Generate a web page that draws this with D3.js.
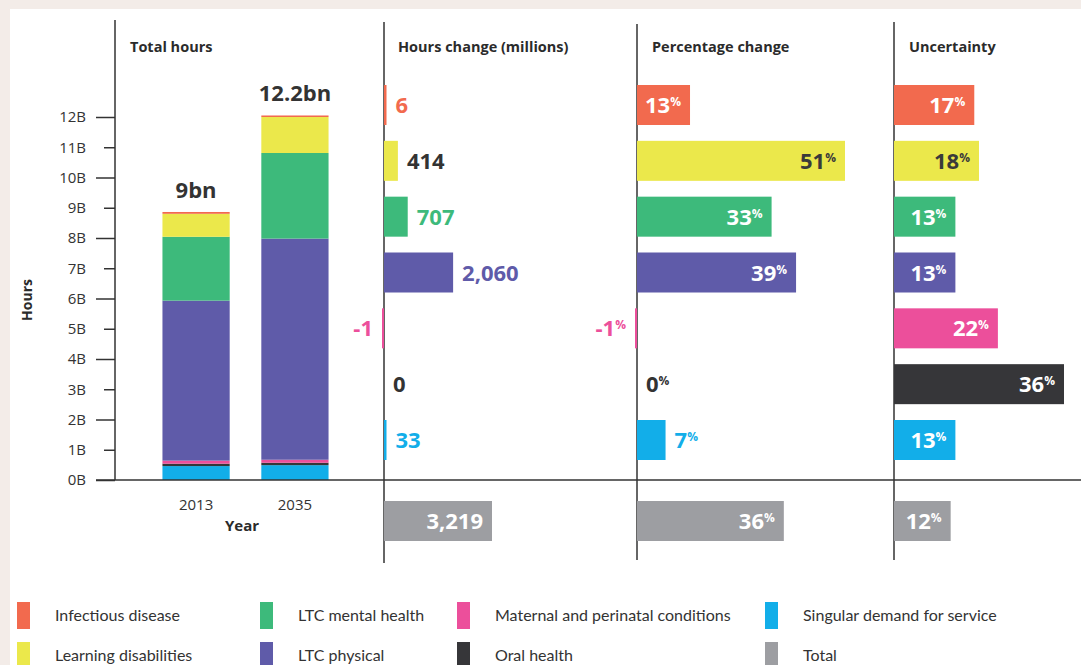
<!doctype html>
<html lang="en">
<head>
  <meta charset="utf-8">
  <title>Hours by condition, 2013 to 2035</title>
  <style>
    body { margin: 0; background: #f3ece8; }
    svg { display: block; }
    text { font-family: "Open Sans", sans-serif; fill: #2b2b2b; }
    .legend text { font-family: Lato, sans-serif; font-size: 16px; }
  </style>
</head>
<body>
  <svg id="svg" width="1081" height="665"></svg>

  <script src="https://cdn.jsdelivr.net/npm/d3@7/dist/d3.min.js"></script>
  <script>
    // categories, stacked bottom -> top in the left chart (reversed order)
    var categories = ["Infectious disease", "Learning disabilities", "LTC mental health",
      "LTC physical", "Maternal and perinatal conditions", "Oral health", "Singular demand for service"];
    var colors = ["#f26a4e", "#ebe84b", "#3dba7b", "#5f5ba9", "#ec4f9b", "#363639", "#12aee9"];
    var totalColor = "#9d9ea2";

    var years = ["2013", "2035"];
    var hours2013 = [0.06, 0.76, 2.11, 5.29, 0.10, 0.08, 0.46];   // billions
    var hours2035 = [0.05, 1.19, 2.83, 7.31, 0.10, 0.08, 0.49];
    var totalLabels = ["9bn", "12.2bn"];
    var yTicks = [0, 1, 2, 3, 4, 5, 6, 7, 8, 9, 10, 11, 12];

    var hoursChange = [6, 414, 707, 2060, -1, 0, 33];   // millions
    var hoursChangeTotal = 3219;
    var pctChange = [13, 51, 33, 39, -1, 0, 7];
    var pctChangeTotal = 36;
    var uncertainty = [17, 18, 13, 13, 22, 36, 13];
    var uncertaintyTotal = 12;

    var svg = d3.select("#svg");
    var fmt = d3.formatLocale({ decimal: ".", thousands: ",", grouping: [3], currency: ["", ""], minus: "-" }).format(",");

    // white card over the tinted page
    svg.append("rect").attr("x", 10).attr("y", 9).attr("width", 1071).attr("height", 656).attr("fill", "#fff");

    // ---------- left: stacked totals ----------
    var y = d3.scaleLinear().domain([0, 12]).range([480, 117]);
    var x = d3.scaleBand().domain(years).range([115, 376]).paddingInner(0.32).paddingOuter(0.48);

    var rows = years.map(function(yr, i) {
      var o = { year: yr };
      var src = i == 0 ? hours2013 : hours2035;
      categories.forEach(function(c, j) { o[c] = src[j]; });
      return o;
    });
    var stackKeys = categories.slice().reverse();
    var series = d3.stack().keys(stackKeys)(rows);

    svg.append("g").selectAll("g").data(series).join("g")
      .attr("fill", function(d) { return colors[categories.indexOf(d.key)]; })
      .selectAll("rect").data(function(d) { return d; }).join("rect")
        .attr("x", function(d) { return x(d.data.year); })
        .attr("width", x.bandwidth())
        .attr("y", function(d) { return y(d[1]); })
        .attr("height", function(d) { return y(d[0]) - y(d[1]); });

    svg.append("g").selectAll("text").data(rows).join("text")
      .attr("x", function(d) { return x(d.year) + x.bandwidth() / 2; })
      .attr("y", function(d) { return y(d3.sum(categories, function(c) { return d[c]; })) - 14; })
      .attr("text-anchor", "middle")
      .style("font-size", "22px").style("font-weight", 700).style("fill", "#333")
      .text(function(d, i) { return totalLabels[i]; });

    var yAxis = svg.append("g").attr("transform", "translate(115,0)")
      .call(d3.axisLeft(y).tickValues(yTicks).tickFormat(function(d) { return d + "B"; }).tickSizeOuter(0));
    yAxis.select(".domain").remove();
    yAxis.selectAll(".tick line").attr("stroke", "#333").attr("stroke-width", 1.5)
      .attr("x2", function(d) { return d % 2 ? -11 : -19; });
    yAxis.selectAll(".tick text").attr("x", -29)
      .style("font-size", "15px").style("fill", "#333").style("font-family", "Open Sans, sans-serif");

    var xAxis = svg.append("g").attr("transform", "translate(0,480)")
      .call(d3.axisBottom(x).tickSize(0));
    xAxis.select(".domain").remove();
    xAxis.selectAll(".tick text").attr("dy", "0").attr("y", 30)
      .style("font-size", "15px").style("fill", "#333").style("font-family", "Open Sans, sans-serif");

    svg.append("text").attr("x", 242).attr("y", 531).attr("text-anchor", "middle")
      .style("font-size", "15px").style("font-weight", 700).text("Year");
    svg.append("text").attr("transform", "translate(32,300) rotate(-90)").attr("text-anchor", "middle")
      .style("font-size", "14px").style("font-weight", 700).text("Hours");

    // ---------- frame lines ----------
    var line = function(x1, y1, x2, y2) {
      svg.append("line").attr("x1", x1).attr("y1", y1).attr("x2", x2).attr("y2", y2)
        .attr("stroke", "#333").attr("stroke-width", 1.5);
    };
    line(96, 480, 1081, 480);
    line(115, 20, 115, 480);
    line(384, 22, 384, 563);
    line(637, 24, 637, 560);
    line(894, 22, 894, 560);

    var headers = [["Total hours", 130], ["Hours change (millions)", 398], ["Percentage change", 652], ["Uncertainty", 909]];
    svg.append("g").selectAll("text").data(headers).join("text")
      .attr("x", function(d) { return d[1]; }).attr("y", 52)
      .style("font-size", "14.5px").style("font-weight", 700)
      .text(function(d) { return d[0]; });

    // ---------- right: three bar panels ----------
    var yRow = d3.scalePoint().domain(categories).range([105, 440]);
    var totalRowY = 521;
    var barH = 40;

    function labelColor(i, inside) {
      if (inside) return i == 1 ? "#3a3a3a" : "#fff";
      if (i == 1 || i == 5) return "#333";
      return colors[i];
    }

    function drawPanel(x0, scale, values, total, mode, pct) {
      var data = values.map(function(v, i) {
        return { v: v, y: yRow(categories[i]), color: colors[i], i: i };
      });
      data.push({ v: total, y: totalRowY, color: totalColor, i: -1 });

      var g = svg.append("g");
      data.forEach(function(d) {
        var w = Math.abs(scale(d.v) - scale(0));
        // negatives show only as a hairline next to the axis
        if (d.v < 0) w = 2;
        else if (d.v > 0) w = Math.max(w, 2.5);
        if (d.v != 0) {
          g.append("rect")
            .attr("x", d.v > 0 ? x0 : x0 - w)
            .attr("y", d.y - barH / 2).attr("width", w).attr("height", barH)
            .attr("fill", d.color);
        }
        var inside = d.i == -1 || mode == "inside" || (mode == "auto" && w > 45);
        var t = g.append("text").attr("y", d.y + 8)
          .style("font-size", "22px").style("font-weight", 700)
          .style("fill", d.i == -1 ? "#fff" : labelColor(d.i, inside));
        if (inside) t.attr("x", x0 + w - 9).attr("text-anchor", "end");
        else if (d.v < 0) t.attr("x", x0 - w - 9).attr("text-anchor", "end");
        else t.attr("x", x0 + w + 9).attr("text-anchor", "start");
        t.append("tspan").text(fmt(d.v));
        if (pct) t.append("tspan").attr("dy", -7).style("font-size", "12px").text("%");
      });
    }

    drawPanel(384, d3.scaleLinear().domain([0, 3219]).range([0, 108]), hoursChange, hoursChangeTotal, "outside", false);
    drawPanel(637, d3.scaleLinear().domain([0, 51]).range([0, 208]), pctChange, pctChangeTotal, "auto", true);
    drawPanel(894, d3.scaleLinear().domain([0, 36]).range([0, 170]), uncertainty, uncertaintyTotal, "inside", true);

    // ---------- legend ----------
    var legendItems = categories.map(function(c, i) { return { name: c, color: colors[i] }; });
    legendItems.push({ name: "Total", color: totalColor });
    var colX = [17, 260, 457, 765];
    var legend = svg.append("g").attr("class", "legend");
    legendItems.forEach(function(d, i) {
      var cx = colX[Math.floor(i / 2)], ry = i % 2 ? 642 : 602;
      legend.append("rect").attr("x", cx).attr("y", ry).attr("width", 13).attr("height", 27).attr("fill", d.color);
      legend.append("text").attr("x", cx + 38).attr("y", ry + 19).style("fill", "#333").text(d.name);
    });
  </script>
</body>
</html>
